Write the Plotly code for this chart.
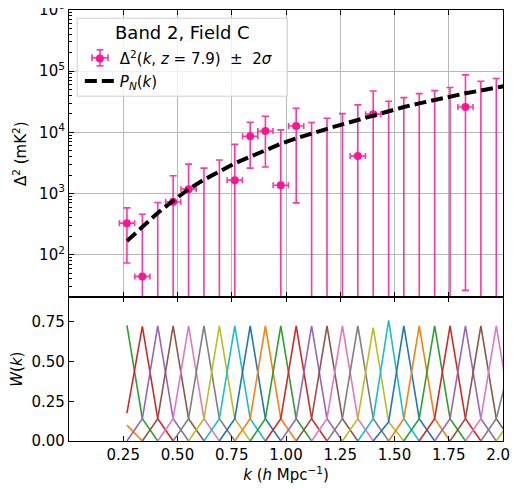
import math
import plotly.graph_objects as go
from plotly.subplots import make_subplots

# ---------------------------------------------------------------------------
# k bin centres (h/Mpc); the last one sits just past the plotted range
K = [0.267, 0.338, 0.409, 0.480, 0.551, 0.622, 0.693, 0.764, 0.835, 0.905,
     0.976, 1.047, 1.118, 1.189, 1.260, 1.331, 1.402, 1.473, 1.543, 1.614,
     1.685, 1.756, 1.827, 1.898, 1.969, 2.040]
K_ERR = 0.035

# measured power (mK^2); None = point falls below the axis, only its 2-sigma top is seen
DELTA2 = [327, 44, None, 730, 1175, None, None, 1650, 8600, 10500,
          1360, 12700, None, None, None, 4080, 19800, None, None, None,
          None, None, 26000, None, None]
# top of the +2 sigma bar
DELTA2_HI = [581, 458, 711, 1945, 3020, 2600, 3515, 6350, 14600, 18300,
             10960, 24700, 14500, 17000, 20200, 28100, 47500, 32200, 36900, 42900,
             48100, 53900, 86900, 68500, 75700]

# noise power spectrum
P_N = [167, 280, 480, 760, 1175, 1680, 2250, 3100, 3980, 5130,
       6500, 7970, 9640, 11400, 13500, 16000, 18900, 22300, 25900, 29700,
       33900, 38500, 43400, 48300, 53800, 59800]

# window functions, one per bin; window j is centred on K[j - 1]
# (first centred just left of K[0], last just right of K[-1])
W_LEFT = [None, None, 0.176, 0.141, 0.141, 0.141, 0.141, 0.141, 0.141, 0.141,
          0.141, 0.141, 0.141, 0.141, 0.141, 0.141, 0.141, 0.141, 0.141, 0.120,
          0.141, 0.141, 0.141, 0.141, 0.141, 0.141, 0.141, 0.141]
W_PEAK = [None, 0.729, 0.722, 0.725, 0.725, 0.725, 0.725, 0.725, 0.725, 0.725,
          0.725, 0.725, 0.725, 0.725, 0.725, 0.725, 0.725, 0.714, 0.760, 0.725,
          0.725, 0.725, 0.725, 0.725, 0.725, 0.725, 0.520, None]
W_RIGHT = [0.100, 0.141, 0.141, 0.141, 0.141, 0.141, 0.141, 0.141, 0.141, 0.141,
           0.141, 0.141, 0.141, 0.141, 0.141, 0.141, 0.141, 0.120, 0.141, 0.141,
           0.141, 0.141, 0.141, 0.141, 0.141, 0.141, None, None]
W_COLOR_OFFSET = 1   # first window drawn is the 2nd colour of the cycle

K_TICKS = [0.25, 0.50, 0.75, 1.00, 1.25, 1.50, 1.75, 2.00]
Y_TICKS = [1e2, 1e3, 1e4, 1e5, 1e6]
W_TICKS = [0.0, 0.25, 0.50, 0.75]

LEGEND_TITLE = "Band 2, Field C"

TAB10 = ["#1f77b4", "#ff7f0e", "#2ca02c", "#d62728", "#9467bd",
         "#8c564b", "#e377c2", "#7f7f7f", "#bcbd22", "#17becf"]
PINK = "#ff1493"
BAR = "rgba(255,20,147,0.85)"
FONT = "DejaVu Sans"

# plot-area size in px, used to turn pixel offsets into paper units
PLOT_W, PLOT_H = 434, 431
# ---------------------------------------------------------------------------

fig = make_subplots(rows=2, cols=1, shared_xaxes=True, vertical_spacing=0,
                    row_heights=[2 / 3, 1 / 3])

# detected points with +/- 2 sigma
kd, yd, up, dn = [], [], [], []
for k, v, hi in zip(K, DELTA2, DELTA2_HI):
    if v is None:
        continue
    err = hi - v
    kd.append(k)
    yd.append(v)
    up.append(err)
    dn.append(min(err, v * 0.999))   # keep the lower end positive on the log axis

# bins whose value is below the axis: only the bar up to +2 sigma shows
ku = [k for k, v in zip(K, DELTA2) if v is None]
yu = [hi for v, hi in zip(DELTA2, DELTA2_HI) if v is None]

fig.add_trace(go.Scatter(
    x=ku, y=yu, mode="markers", marker=dict(size=1, opacity=0, color=PINK),
    error_y=dict(type="data", symmetric=False, array=[0] * len(yu),
                 arrayminus=[y * 0.9999 for y in yu],
                 color=BAR, thickness=1.6, width=3.5),
    showlegend=False, hoverinfo="skip",
), row=1, col=1)

fig.add_trace(go.Scatter(
    x=kd, y=yd, mode="markers",
    marker=dict(size=8, color=PINK),
    error_y=dict(type="data", symmetric=False, array=up, arrayminus=dn,
                 color=BAR, thickness=1.6, width=3.5),
    error_x=dict(type="constant", value=K_ERR, color=BAR, thickness=1.6, width=3),
    name="Δ<sup>2</sup>(<i>k</i>, <i>z</i> = 7.9)  ±  2<i>σ</i>",
    legendrank=1,
), row=1, col=1)

fig.add_trace(go.Scatter(
    x=K, y=P_N, mode="lines",
    line=dict(color="black", width=4, dash="12px,5px"),
    name="<i>P<sub>N</sub></i>(<i>k</i>)",
    legendrank=2,
), row=1, col=1)

# window functions
n_k = len(K)
for j, (wl, wp, wr) in enumerate(zip(W_LEFT, W_PEAK, W_RIGHT)):
    c = j - 1
    xs, ys = [], []
    for idx, val in ((c - 2, 0.0), (c - 1, wl), (c, wp), (c + 1, wr), (c + 2, 0.0)):
        if 0 <= idx < n_k and val is not None:
            xs.append(K[idx])
            ys.append(val)
    fig.add_trace(go.Scatter(
        x=xs, y=ys, mode="lines",
        line=dict(color=TAB10[(j + W_COLOR_OFFSET) % 10], width=1.6),
        showlegend=False, hoverinfo="skip",
    ), row=2, col=1)

axis_common = dict(
    showline=True, linecolor="black", linewidth=1.2,
    ticks="inside", ticklen=5, tickwidth=1.2, tickcolor="black",
    zeroline=False, ticklabeloverflow="allow", automargin=False,
    tickfont=dict(family=FONT, size=15, color="black"),
)

fig.update_xaxes(
    range=[0, 2.0], tickvals=K_TICKS, mirror="ticks", **axis_common,
)
fig.update_xaxes(showticklabels=False, showgrid=True, gridcolor="#b8b8b8",
                 gridwidth=1, row=1, col=1)
fig.update_xaxes(
    showgrid=False,
    ticktext=[f"{t:.2f}" for t in K_TICKS],
    title=dict(text="<i>k</i> (<i>h</i> Mpc<sup>−1</sup>)",
               font=dict(family=FONT, size=15, color="black"), standoff=4),
    row=2, col=1,
)

minor_vals = [m * 10 ** e for e in range(1, 6) for m in range(2, 10) if m * 10 ** e >= 20]
fig.update_yaxes(
    type="log", range=[math.log10(20), 6.0002], domain=[1 / 3, 1],
    tickvals=Y_TICKS,
    ticktext=[f"10<sup>{int(round(math.log10(t)))}</sup>" for t in Y_TICKS],
    mirror=True, showgrid=True, gridcolor="#b8b8b8", gridwidth=1,
    minor=dict(tickmode="array", tickvals=minor_vals, ticks="inside", ticklen=3,
               tickwidth=1, tickcolor="black", showgrid=False),
    title=dict(text="Δ<sup>2</sup> (mK<sup>2</sup>)",
               font=dict(family=FONT, size=15, color="black"), standoff=8),
    **axis_common, row=1, col=1,
)
fig.update_yaxes(
    range=[0, 0.905], domain=[0, 1 / 3],
    tickvals=W_TICKS, ticktext=[f"{t:.2f}" for t in W_TICKS],
    mirror=True, showgrid=False,
    title=dict(text="<i>W</i>(<i>k</i>)",
               font=dict(family=FONT, size=15, color="black"), standoff=8),
    **axis_common, row=2, col=1,
)

# legend frame + heading, the entries themselves come from the plotly legend
fig.add_shape(type="rect", xref="paper", yref="paper",
              x0=0.019, x1=0.503, y0=0.800, y1=0.981,
              line=dict(color="#d0d0d0", width=1),
              fillcolor="rgba(255,255,255,0.8)", layer="above")
fig.add_annotation(text=LEGEND_TITLE, xref="paper", yref="paper",
                   x=0.262, y=0.948, xanchor="center", yanchor="middle",
                   showarrow=False, font=dict(family=FONT, size=18, color="black"))

# error-bar cross behind the legend marker (plotly legends show the dot only)
icon_x, icon_y = 0.0714, 0.8890
arm_x, arm_y = 8 / PLOT_W, 8 / PLOT_H
cap_x, cap_y = 3.5 / PLOT_W, 3.5 / PLOT_H
for x0, y0, x1, y1 in [
    (icon_x, icon_y - arm_y, icon_x, icon_y + arm_y),
    (icon_x - arm_x, icon_y, icon_x + arm_x, icon_y),
    (icon_x - cap_x, icon_y + arm_y, icon_x + cap_x, icon_y + arm_y),
    (icon_x - cap_x, icon_y - arm_y, icon_x + cap_x, icon_y - arm_y),
    (icon_x - arm_x, icon_y - cap_y, icon_x - arm_x, icon_y + cap_y),
    (icon_x + arm_x, icon_y - cap_y, icon_x + arm_x, icon_y + cap_y),
]:
    fig.add_shape(type="line", xref="paper", yref="paper",
                  x0=x0, y0=y0, x1=x1, y1=y1,
                  line=dict(color=BAR, width=1.6), layer="above")

# the page puts the figure 8px in from the top-left corner, so margins absorb that
fig.update_layout(
    width=518, height=489,
    margin=dict(l=61, r=23, t=2, b=56, autoexpand=False),
    plot_bgcolor="white", paper_bgcolor="white",
    font=dict(family=FONT, size=15, color="black"),
    showlegend=True,
    legend=dict(
        x=0.025, y=0.925, xanchor="left", yanchor="top",
        bgcolor="rgba(0,0,0,0)", borderwidth=0,
        font=dict(family=FONT, size=15, color="black"),
        tracegroupgap=0,
    ),
)

fig.write_html("out.html")
